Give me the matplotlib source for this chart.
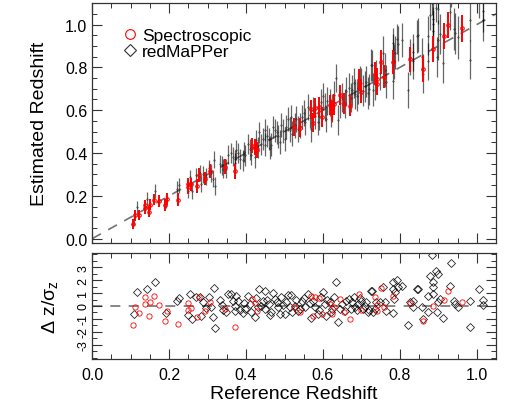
import numpy as np
import matplotlib
matplotlib.use('Agg')
import matplotlib.pyplot as plt
from matplotlib.lines import Line2D
from matplotlib.ticker import MultipleLocator

plt.rcParams['font.family'] = ['Liberation Sans', 'DejaVu Sans']

# redMaPPer clusters: reference z, normalised residual, redshift error
z_black = [0.110, 0.116, 0.142, 0.164, 0.192, 0.220, 0.227, 0.249, 0.255, 0.260,
           0.270, 0.280, 0.283, 0.289, 0.296, 0.303, 0.310, 0.314, 0.316, 0.320,
           0.331, 0.338, 0.349, 0.353, 0.360, 0.370, 0.375, 0.380, 0.385, 0.392,
           0.405, 0.410, 0.414, 0.424, 0.427, 0.434, 0.444, 0.450, 0.450, 0.459,
           0.466, 0.470, 0.476, 0.483, 0.488, 0.492, 0.500, 0.509, 0.514, 0.518,
           0.527, 0.535, 0.546, 0.553, 0.561, 0.570, 0.579, 0.586, 0.595, 0.600,
           0.605, 0.609, 0.618, 0.624, 0.629, 0.634, 0.640, 0.649, 0.657, 0.668,
           0.675, 0.683, 0.692, 0.700, 0.709, 0.720, 0.725, 0.727, 0.731, 0.735,
           0.738, 0.748, 0.757, 0.761, 0.765, 0.781, 0.781, 0.783, 0.785, 0.787,
           0.792, 0.796, 0.805, 0.820, 0.825, 0.834, 0.834, 0.844, 0.847, 0.857,
           0.861, 0.872, 0.874, 0.879, 0.884, 0.886, 0.887, 0.887, 0.893, 0.896,
           0.900, 0.900, 0.905, 0.913, 0.929, 0.933, 0.940, 0.944, 0.950, 0.981,
           0.983, 1.005, 1.016, 1.016,
           0.340, 0.365, 0.372, 0.395, 0.398, 0.430, 0.440, 0.455, 0.462, 0.480,
           0.495, 0.505, 0.520, 0.530, 0.540, 0.550, 0.565, 0.575, 0.590, 0.610,
           0.620, 0.645, 0.660, 0.672, 0.680, 0.688, 0.695, 0.705, 0.712, 0.716]
dz_black = [-0.64, 1.05, 1.30, 1.82, -0.54, 0.36, 0.64, -0.67, 0.92, -0.97,
            0.72, 0.70, -0.74, 0.28, -0.15, 0.67, -0.10, -0.87, 1.36, -1.70,
            0.46, 0.10, -0.49, 0.92, 0.90, 0.03, 0.80, 0.40, -0.30, -0.56,
            0.80, 0.15, -0.50, -0.87, 0.65, 1.30, 0.41, 1.13, -0.20, 0.15,
            -0.50, 0.97, 0.54, -0.10, -0.62, 0.72, -0.62, 0.87, -0.10, 0.87,
            0.03, -0.36, 0.41, -0.10, 0.92, -0.92, -0.10, -0.62, 0.67, 1.05,
            0.15, -0.74, 0.28, -0.23, 0.67, 1.82, -1.26, 0.15, -0.36, 0.54,
            0.28, -0.10, 0.15, 0.40, 0.03, -0.30, 1.18, 1.13, -0.50, -0.20,
            0.28, 0.33, 1.44, 0.33, -0.40, 1.82, -0.54, 1.30, 0.54, 1.05,
            2.03, 1.44, 1.56, -1.46, 0.28, 0.41, -0.05, 1.30, 1.30, -0.10,
            -1.00, -0.50, 0.80, 2.33, 3.92, 0.92, 1.82, 1.44, 2.72, -0.50,
            2.46, 0.28, 0.54, -0.95, 1.51, 3.31, 0.41, 0.15, -0.10, 0.41,
            -1.64, 1.30, 0.49, 0.05,
            -0.30, 0.40, -0.40, 0.20, -0.20, -0.10, 0.00, 0.50, -0.70, 0.30,
            0.10, 0.30, -0.50, 0.50, -0.20, 0.60, 0.20, 0.40, -0.30, 0.50,
            -0.50, -0.20, 0.40, -0.20, 0.70, -0.30, 0.60, -0.20, 0.30, -0.50]
sig_black = [0.028, 0.030, 0.032, 0.033, 0.031, 0.035, 0.034, 0.036, 0.035, 0.037,
             0.036, 0.039, 0.038, 0.040, 0.041, 0.039, 0.042, 0.040, 0.039, 0.043,
             0.042, 0.043, 0.045, 0.043, 0.046, 0.044, 0.047, 0.046, 0.047, 0.048,
             0.047, 0.050, 0.048, 0.051, 0.049, 0.048, 0.052, 0.051, 0.053, 0.052,
             0.053, 0.052, 0.055, 0.053, 0.056, 0.055, 0.057, 0.056, 0.058, 0.057,
             0.058, 0.060, 0.057, 0.061, 0.060, 0.062, 0.061, 0.064, 0.062, 0.061,
             0.064, 0.065, 0.062, 0.066, 0.065, 0.064, 0.068, 0.066, 0.069, 0.068,
             0.070, 0.069, 0.072, 0.070, 0.073, 0.072, 0.074, 0.073, 0.075, 0.074,
             0.075, 0.078, 0.077, 0.079, 0.078, 0.072, 0.083, 0.075, 0.082, 0.078,
             0.070, 0.080, 0.079, 0.086, 0.085, 0.087, 0.086, 0.078, 0.080, 0.087,
             0.090, 0.088, 0.091, 0.070, 0.055, 0.092, 0.075, 0.080, 0.068, 0.094,
             0.070, 0.094, 0.095, 0.096, 0.085, 0.065, 0.098, 0.096, 0.099, 0.100,
             0.090, 0.085, 0.097, 0.100,
             0.043, 0.046, 0.044, 0.047, 0.048, 0.049, 0.051, 0.052, 0.053, 0.055,
             0.056, 0.057, 0.058, 0.060, 0.058, 0.061, 0.062, 0.061, 0.064, 0.065,
             0.066, 0.068, 0.069, 0.068, 0.070, 0.072, 0.070, 0.073, 0.072, 0.074]

# spectroscopic clusters
z_red = [0.105, 0.112, 0.123, 0.138, 0.138, 0.147, 0.150, 0.162, 0.175, 0.189,
         0.195, 0.222, 0.248, 0.249, 0.258, 0.272, 0.277, 0.293, 0.307, 0.344,
         0.370, 0.415, 0.422, 0.429, 0.525, 0.540, 0.568, 0.574, 0.579, 0.589,
         0.598, 0.618, 0.624, 0.629, 0.644, 0.655, 0.671, 0.694, 0.699, 0.735,
         0.740, 0.741, 0.750, 0.759, 0.783, 0.825, 0.860, 0.887, 0.915, 0.924,
         0.961]
dz_red = [-1.50, -0.10, -0.55, 0.67, 0.15, -0.80, 0.33, 0.80, 0.08, -1.13,
          -0.36, -1.36, 0.20, -0.30, -0.15, -0.82, 0.67, -0.40, 0.28, -0.23,
          -1.60, 0.54, 0.20, -0.36, -0.05, -0.50, 0.80, -0.74, 0.67, 0.59,
          -0.62, 0.15, -0.62, -0.05, 0.54, -0.50, -1.03, 0.92, -0.30, 0.67,
          0.08, -0.36, 1.36, -0.05, 0.74, 0.23, -1.13, -0.03, 0.49, 1.18,
          0.33]
sig_red = [0.024, 0.025, 0.024, 0.026, 0.025, 0.026, 0.027, 0.026, 0.027, 0.028,
           0.027, 0.029, 0.030, 0.031, 0.030, 0.031, 0.032, 0.031, 0.032, 0.034,
           0.035, 0.037, 0.038, 0.037, 0.042, 0.043, 0.045, 0.044, 0.046, 0.045,
           0.046, 0.047, 0.046, 0.048, 0.047, 0.050, 0.049, 0.051, 0.050, 0.053,
           0.054, 0.053, 0.055, 0.054, 0.056, 0.058, 0.060, 0.059, 0.061, 0.062,
           0.064]

z_black = np.array(z_black)
dz_black = np.array(dz_black)
sig_black = np.array(sig_black)
z_red = np.array(z_red)
dz_red = np.array(dz_red)
sig_red = np.array(sig_red)

est_black = z_black + dz_black * sig_black
est_red = z_red + dz_red * sig_red

XLIM = (0.0, 1.05)

fig = plt.figure(figsize=(5.12, 4.10), dpi=100)
ax1 = fig.add_axes([0.180, 0.405, 0.789, 0.585])
ax2 = fig.add_axes([0.180, 0.122, 0.789, 0.2585])

# top panel
ax1.plot(XLIM, XLIM, color='0.45', ls=(0, (6, 5)), lw=1.2, zorder=1)
ax1.errorbar(z_black, est_black, yerr=sig_black, fmt='D', ms=1.0, mfc='none',
             mec='k', mew=0.4, ecolor='k', elinewidth=0.9, alpha=0.6, zorder=2)
ax1.errorbar(z_red, est_red, yerr=sig_red, fmt='o', ms=2.5, mfc='none',
             mec='red', mew=0.8, ecolor='red', elinewidth=1.4, zorder=3)
ax1.set_xlim(XLIM)
ax1.set_ylim(-0.02, 1.10)
ax1.set_ylabel('Estimated Redshift', fontsize=14, labelpad=12)
ax1.tick_params(labelbottom=False)

handles = [Line2D([], [], ls='none', marker='o', ms=7, mfc='none', mec='red', mew=0.8),
           Line2D([], [], ls='none', marker='D', ms=6, mfc='none', mec='0.2', mew=0.8)]
ax1.legend(handles, ['Spectroscopic', 'redMaPPer'], loc='upper left',
           bbox_to_anchor=(0.055, 0.925), frameon=False, fontsize=12.5,
           handletextpad=0.2, labelspacing=0.05, handlelength=1.0,
           borderaxespad=0)

# residual panel
ax2.axhline(0, color='0.45', ls=(0, (6, 5)), lw=1.2, zorder=1)
ax2.plot(z_black, dz_black, ls='none', marker='D', ms=4.2, mfc='none',
         mec='k', mew=0.6, alpha=0.85, zorder=2)
ax2.plot(z_red, dz_red, ls='none', marker='o', ms=3.8, mfc='none',
         mec='red', mew=0.6, zorder=3)
ax2.set_xlim(XLIM)
ax2.set_ylim(-4.1, 4.1)
ax2.set_yticks([-3, -2, -1, 0, 1, 2, 3])
ax2.set_yticklabels(['-3', '-2', '-1', '0', '1', '2', '3'], rotation=90,
                    va='center', fontsize=9)
ax2.set_xlabel('Reference Redshift', fontsize=14, labelpad=2)
ax2.set_ylabel('Δ z/σ$_\\mathregular{z}$', fontsize=14, labelpad=12)

for ax in (ax1, ax2):
    ax.xaxis.set_major_locator(MultipleLocator(0.2))
    ax.xaxis.set_minor_locator(MultipleLocator(0.05))
    ax.tick_params(which='both', direction='in', top=True, right=True,
                   labelsize=11.5, color='0.2')
    ax.tick_params(which='major', length=7, width=0.8)
    ax.tick_params(which='minor', length=3.5, width=0.7)
    for sp in ax.spines.values():
        sp.set_linewidth(0.9)
        sp.set_color('0.2')

ax1.yaxis.set_major_locator(MultipleLocator(0.2))
ax1.yaxis.set_minor_locator(MultipleLocator(0.05))
ax2.yaxis.set_minor_locator(MultipleLocator(0.5))
ax2.tick_params(axis='x', pad=6)
ax2.tick_params(axis='y', labelsize=9, pad=2)

fig.savefig('out.png', dpi=100)
